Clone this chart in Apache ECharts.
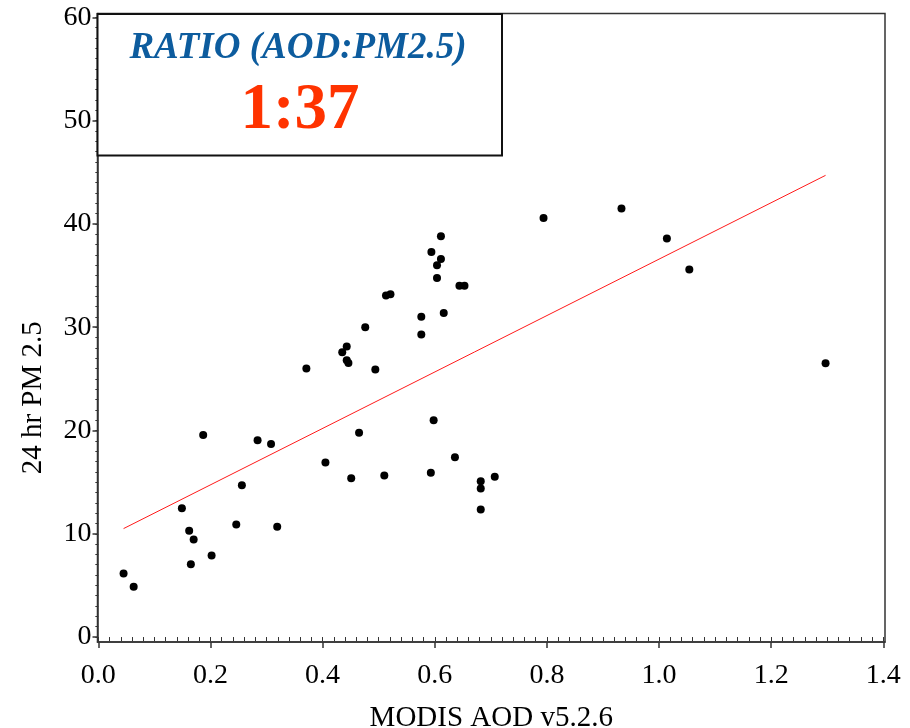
<!DOCTYPE html>
<html>
<head>
<meta charset="utf-8">
<script src="https://cdn.jsdelivr.net/npm/echarts@6/dist/echarts.min.js"></script>
<style>
html,body{margin:0;padding:0;background:#fff;}
#chart{width:910px;height:728px;}
</style>
</head>
<body>
<div id="chart"></div>
<script>
// MODIS AOD (x) and 24 hr PM 2.5 (y)
var aod = [0.045,0.063,0.149,0.162,0.170,0.165,0.202,0.187,0.246,0.256,0.284,0.308,0.319,
	0.371,0.476,0.443,0.435,0.443,0.446,0.494,0.465,0.405,0.451,0.510,0.513,0.521,
	0.594,0.611,0.611,0.604,0.604,0.644,0.653,0.616,0.576,0.576,0.598,0.593,0.636,0.682,0.682,0.682,0.707,
	0.794,0.933,1.014,1.054,1.297];
var pm25 = [6.15,4.86,12.47,10.28,9.44,7.05,7.89,19.57,10.89,14.69,19.05,18.7,10.67,
	25.99,29.99,28.12,27.57,26.8,26.54,25.9,19.77,16.9,15.37,15.63,33.06,33.2,
	37.29,38.8,36.61,35.99,34.77,34.0,34.0,31.38,31.0,29.28,20.99,15.9,17.4,15.08,14.38,12.35,15.51,
	40.58,41.48,38.58,35.58,26.5];
// regression line end points
var fitX = [0.045,1.297];
var fitY = [10.5,44.7];
// tick labels
var xTicks = [0,0.2,0.4,0.6,0.8,1.0,1.2,1.4];
var yTicks = [0,10,20,30,40,50,60];
var ratioTitle = 'RATIO (AOD:PM2.5)';
var ratioText = '1:37';

var xMinor=[],yMinor=[];
for(var i=0;i<=70;i++){ xMinor.push(+(i*0.02).toFixed(2)); }
for(var j=0;j<=60;j++){ yMinor.push(j); }

var points=[];
for(var k=0;k<aod.length;k++){ points.push([aod[k],pm25[k]]); }
var fit=[];
for(var m=0;m<fitX.length;m++){ fit.push([fitX[m],fitY[m]]); }

var font='Liberation Serif';
var lineCol='#333';
var xRange={min:-0.0015,max:1.403};
var yRange={min:-0.48,max:60.37};

var chart=echarts.init(document.getElementById('chart'));
var option={
	backgroundColor:'#fff',
	animation:false,
	grid:{
		left:97.5, right:25, top:13.5, bottom:86,
		outerBoundsMode:'none', containLabel:false,
		show:true, borderColor:lineCol, borderWidth:1.5, backgroundColor:'#fff'
	},
	xAxis:[{
		type:'value', min:xRange.min, max:xRange.max,
		name:'MODIS AOD v5.2.6', nameLocation:'middle', nameGap:62,
		nameTextStyle:{fontFamily:font,fontSize:29,color:'#000'},
		axisLine:{show:true,onZero:false,lineStyle:{color:lineCol,width:1.5}},
		axisTick:{show:true,customValues:xTicks,length:6,lineStyle:{color:lineCol,width:1.5}},
		axisLabel:{customValues:xTicks,fontFamily:font,fontSize:28,color:'#000',margin:20,
			formatter:function(v){return v.toFixed(1);}},
		splitLine:{show:false}
	},{
		type:'value', min:xRange.min, max:xRange.max, position:'bottom',
		axisLine:{show:false},
		axisTick:{show:true,customValues:xMinor,length:4,lineStyle:{color:lineCol,width:1}},
		axisLabel:{show:false},
		splitLine:{show:false}
	}],
	yAxis:[{
		type:'value', min:yRange.min, max:yRange.max,
		name:'24 hr PM 2.5', nameLocation:'middle', nameGap:50, nameRotate:90,
		nameTextStyle:{fontFamily:font,fontSize:29,color:'#000',padding:[0,140,0,0]},
		axisLine:{show:true,onZero:false,lineStyle:{color:lineCol,width:1.5}},
		axisTick:{show:true,customValues:yTicks,length:5,lineStyle:{color:lineCol,width:1.5}},
		axisLabel:{customValues:yTicks,fontFamily:font,fontSize:28,color:'#000',margin:6},
		splitLine:{show:false}
	},{
		type:'value', min:yRange.min, max:yRange.max, position:'left',
		axisLine:{show:false},
		axisTick:{show:true,customValues:yMinor,length:3,lineStyle:{color:lineCol,width:1}},
		axisLabel:{show:false},
		splitLine:{show:false}
	}],
	series:[{
		type:'line',
		data:fit,
		showSymbol:false,
		symbol:'none',
		lineStyle:{color:'#ff1a1a',width:1},
		z:2
	},{
		type:'scatter',
		data:points,
		symbol:'circle',
		symbolSize:8,
		itemStyle:{color:'#000',opacity:1},
		z:3
	}],
	graphic:[{
		type:'rect',
		shape:{x:97.5,y:14,width:404.5,height:141.5},
		style:{fill:'#fff',stroke:'#111',lineWidth:2},
		z:10
	},{
		type:'text',
		x:298, y:48,
		style:{text:ratioTitle,fontFamily:font,fontSize:37,fontWeight:'bold',fontStyle:'italic',
			fill:'#0d5c9e',align:'center',verticalAlign:'middle'},
		z:11
	},{
		type:'text',
		x:300, y:111,
		style:{text:ratioText,fontFamily:font,fontSize:65,fontWeight:'bold',
			fill:'#ff3300',align:'center',verticalAlign:'middle'},
		z:11
	}]
};
chart.setOption(option);
</script>
</body>
</html>
